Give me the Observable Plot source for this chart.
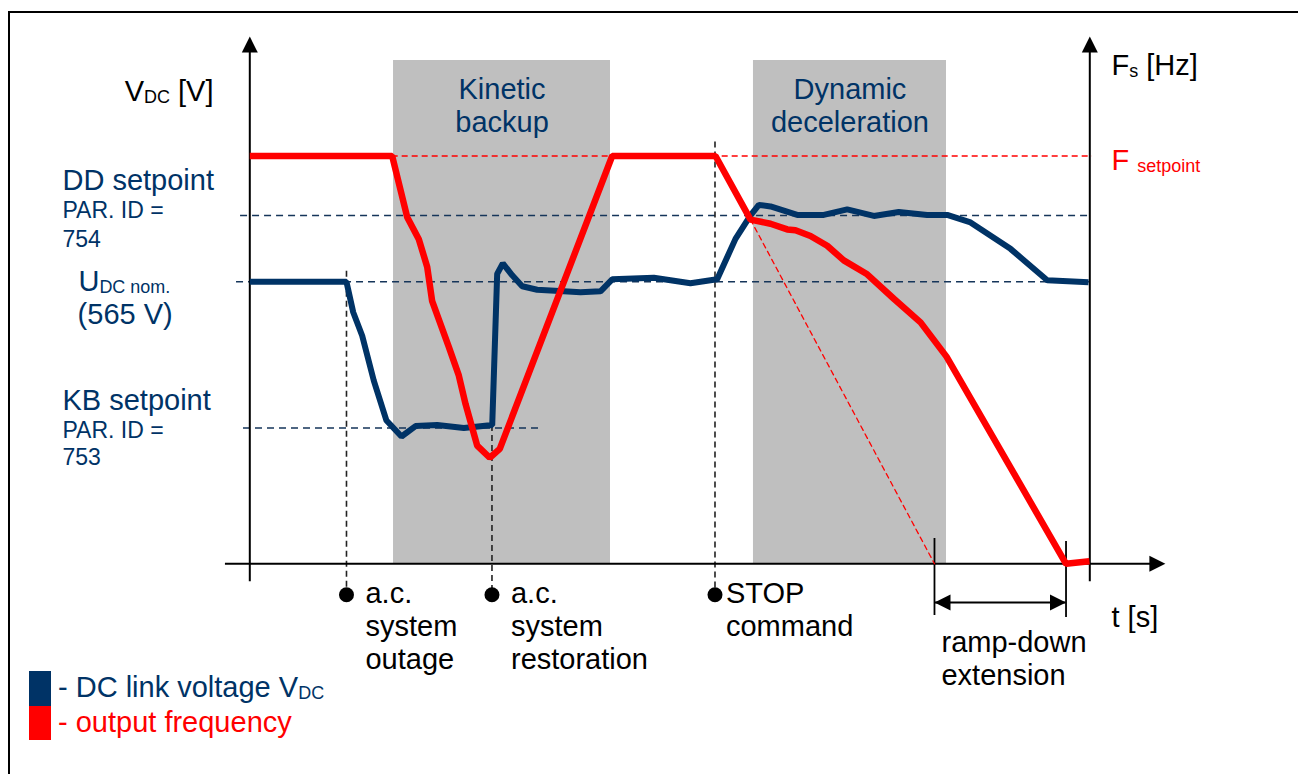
<!DOCTYPE html>
<html>
<head>
<meta charset="utf-8">
<script src="https://cdn.jsdelivr.net/npm/d3@7"></script>
<script src="https://cdn.jsdelivr.net/npm/@observablehq/plot@0.6"></script>
<style>
  html, body { margin: 0; padding: 0; background: #fff; overflow: hidden; }
  #wrap { position: relative; width: 1298px; height: 774px; overflow: hidden;
          font-family: "Liberation Sans", Arial, sans-serif; background: #fff; }
  #chart { position: absolute; left: 0; top: 0; }
  #frame { position: absolute; left: 8px; top: 11px; width: 1400px; height: 900px;
           border: 2.5px solid #000; pointer-events: none; }
  .lg-row { position: absolute; left: 29px; height: 34.5px; }
  .lg-sw { position: absolute; left: 0; top: 0; width: 21.5px; height: 100%; }
  .lg-tx { position: absolute; left: 29px; top: -1px; font-size: 29px; line-height: 34px; white-space: pre; }
</style>
</head>
<body>
<div id="wrap">
  <div id="chart"></div>
  <div id="frame"></div>
  <div id="legend"></div>
</div>
<script>
// ---------------- data ----------------
// time axis in arbitrary units 0..100 (left axis .. right axis)
const vdcTime  = [0, 11.51, 12.31, 13.38, 14.76, 16.27, 18.06, 19.73, 22.31, 25.48, 28.86, 29.45, 30.12, 31.24, 32.43, 34.21, 37.38, 39.37, 41.75, 43.14, 48.10, 52.46, 55.64, 57.82, 59.61, 60.60, 61.99, 65.17, 68.33, 71.12, 74.29, 77.26, 80.64, 83.02, 85.80, 90.56, 94.93, 99.85];
const vdcVolts = [565, 565, 504, 457, 367, 287, 255, 276, 278, 272, 278, 581, 602, 578, 556, 549, 546, 544, 546, 570, 573, 562, 570, 651, 698, 719, 716, 699, 699, 710, 697, 705, 699, 699, 684, 631, 568, 564];

const freqTime = [0, 16.95, 18.74, 20.12, 21.12, 21.71, 23.69, 24.88, 25.68, 27.07, 28.57, 29.76, 43.14, 55.44, 59.61, 61.99, 63.98, 64.96, 66.75, 68.74, 70.71, 73.50, 76.67, 79.85, 82.94, 97.17, 99.96];
const freqHz   = [50, 50, 42.5, 39.8, 36.4, 32.2, 26.6, 23.1, 19.6, 14.5, 13.0, 14.1, 50, 50, 42.2, 41.7, 41.0, 40.9, 40.2, 39.0, 37.2, 35.5, 32.5, 29.6, 25.4, 0, 0.3];

// nominal (un-extended) ramp after STOP
const rampRefTime = [59.61, 81.51];
const rampRefHz   = [42.2, 0];

// setpoints
const setpointNames = ["DD setpoint", "U_{DC nom.}", "KB setpoint"];
const setpointVolts = [698, 565, 272];
const fSetpointHz = 50;

// phases
const phaseNames = ["Kinetic\nbackup", "Dynamic\ndeceleration"];
const phaseStart = [17.11, 59.96];
const phaseEnd   = [42.94, 82.94];

// events
const eventNames = ["a.c.\nsystem\noutage", "a.c.\nsystem\nrestoration", "STOP\ncommand"];
const eventTime  = [11.51, 28.83, 55.38];

// ramp-down extension
const rampDownFrom = 81.51, rampDownTo = 97.17;

// legend
const legendLabels = ["- DC link voltage V_{DC}", "- output frequency"];

// ---------------- styling ----------------
const NAVY = "#003366", RED = "#ff0000", GRAY = "#bfbfbf", REFLINE = "#15355a";
const FONT = "'Liberation Sans', Arial, sans-serif";
const HZ_TO_Y = 817 / 50;          // right axis: F_setpoint sits level with 817 on the left scale

const vdc  = vdcTime.map((t, i) => ({t, v: vdcVolts[i]}));
const freq = freqTime.map((t, i) => ({t, f: freqHz[i]}));
const rampRef = rampRefTime.map((t, i) => ({t, f: rampRefHz[i]}));
const phases = phaseNames.map((name, i) => ({name, start: phaseStart[i], end: phaseEnd[i], mid: (phaseStart[i] + phaseEnd[i]) / 2}));
const eventTops = [586, 297, 845];
const events = eventNames.map((name, i) => ({name, t: eventTime[i], top: eventTops[i]}));
const refLines = [
  {v: setpointVolts[0], from: -1.1,  to: 100},
  {v: setpointVolts[1], from: -1.58, to: 100},
  {v: setpointVolts[2], from: -0.75, to: 34.37}
];

const MARKER_Y = -62;       // event markers below the time axis
const AXIS_FOOT = -36, AXIS_LINE_TOP = 1040, AXIS_TIP = 1056.5;
const T_START = -2.9, T_TIP = 109.0;
const RAMP_Y = -77.5;

// filled arrowhead, tip at the anchor point, pointing up
const ARROW = {draw(ctx) { ctx.moveTo(0, 0); ctx.lineTo(-8, 16); ctx.lineTo(8, 16); ctx.closePath(); }};

const arrowHeads = [
  {t: 0, y: AXIS_TIP, rot: 0},
  {t: 100, y: AXIS_TIP, rot: 0},
  {t: T_TIP, y: 0, rot: 90},
  {t: rampDownFrom, y: RAMP_Y, rot: -90},
  {t: rampDownTo, y: RAMP_Y, rot: 90}
];
const rampTicks = [
  {t: rampDownFrom, y1: 50.7, y2: -103.6},
  {t: rampDownTo, y1: 44.7, y2: -107.6}
];

const leftBig = [
  {text: setpointNames[0], x: -22.3, y: 748},
  {text: setpointNames[1], x: -20.4, y: 546},
  {text: "(565 V)",        x: -20.5, y: 481},
  {text: setpointNames[2], x: -22.3, y: 309}
];
const leftSmall = [
  {text: "PAR. ID =", x: -22.3, y: 692},
  {text: "754",       x: -22.3, y: 634},
  {text: "PAR. ID =", x: -22.3, y: 253},
  {text: "753",       x: -22.3, y: 197}
];
const axisTitles = [
  {text: "V_{DC} [V]", x: -4.32, y: 928, anchor: "end"},
  {text: "F_{s} [Hz]", x: 102.58, y: 980, anchor: "start"},
  {text: "t [s]",      x: 102.58, y: -126, anchor: "start"}
];

const chart = Plot.plot({
  width: 1298,
  height: 774,
  margin: 0,
  x: {domain: [0, 100], range: [249.3, 1089.3], axis: null},
  y: {domain: [0, 565], range: [563.3, 281.3], axis: null},
  style: {fontFamily: FONT, background: "transparent", overflow: "visible"},
  marks: [
    // phases
    Plot.rect(phases, {x1: "start", x2: "end", y1: 0, y2: 1008.4, fill: GRAY}),
    // reference dashed lines
    Plot.ruleY(refLines, {y: "v", x1: "from", x2: "to", stroke: REFLINE, strokeWidth: 1.5, strokeDasharray: "7,5"}),
    Plot.ruleY([fSetpointHz], {y: d => d * HZ_TO_Y, x1: 16.95, x2: 100.3, stroke: RED, strokeWidth: 1.3, strokeDasharray: "6,4"}),
    Plot.ruleX(events, {x: "t", y1: "top", y2: MARKER_Y, stroke: "#222", strokeWidth: 1.6, strokeDasharray: "6,4"}),
    // axes
    Plot.ruleX([0, 100], {y1: AXIS_FOOT, y2: AXIS_LINE_TOP, stroke: "#000", strokeWidth: 2}),
    Plot.ruleY([0], {x1: T_START, x2: T_TIP - 1, stroke: "#000", strokeWidth: 2}),
    Plot.ruleX(rampTicks, {x: "t", y1: "y1", y2: "y2", stroke: "#000", strokeWidth: 1.8}),
    Plot.ruleY([RAMP_Y], {x1: rampDownFrom, x2: rampDownTo, stroke: "#000", strokeWidth: 1.8}),
    Plot.dot(arrowHeads, {x: "t", y: "y", rotate: "rot", symbol: ARROW, r: 5, fill: "#000", stroke: "none"}),
    // nominal ramp reference
    Plot.line(rampRef, {x: "t", y: d => d.f * HZ_TO_Y, stroke: RED, strokeWidth: 1.3, strokeDasharray: "5,4"}),
    // series
    Plot.line(vdc, {x: "t", y: "v", stroke: NAVY, strokeWidth: 6, strokeLinejoin: "miter", strokeLinecap: "butt"}),
    Plot.line(freq, {x: "t", y: d => d.f * HZ_TO_Y, stroke: RED, strokeWidth: 6.5, strokeLinejoin: "miter", strokeLinecap: "butt"}),
    // event markers
    Plot.dot(events, {x: "t", y: MARKER_Y, r: 7.5, fill: "#000", stroke: "none"}),
    // texts
    Plot.text(phases, {x: "mid", y: 866, text: "name", fill: NAVY, fontSize: 29, textAnchor: "middle", lineAnchor: "bottom", lineHeight: 1.138}),
    Plot.text(leftBig, {x: "x", y: "y", text: "text", fill: NAVY, fontSize: 29, textAnchor: "start", lineAnchor: "bottom"}),
    Plot.text(leftSmall, {x: "x", y: "y", text: "text", fill: NAVY, fontSize: 23, textAnchor: "start", lineAnchor: "bottom"}),
    Plot.text(axisTitles.filter(d => d.anchor === "end"), {x: "x", y: "y", text: "text", fill: "#000", fontSize: 29, textAnchor: "end", lineAnchor: "bottom"}),
    Plot.text(axisTitles.filter(d => d.anchor === "start"), {x: "x", y: "y", text: "text", fill: "#000", fontSize: 29, textAnchor: "start", lineAnchor: "bottom"}),
    Plot.text([fSetpointHz], {x: 102.58, y: d => d * HZ_TO_Y, dy: 13.5, text: () => "F _{setpoint}", fill: RED, fontSize: 29, textAnchor: "start", lineAnchor: "bottom"}),
    Plot.text(events.slice(0, 2), {x: "t", y: -211, dx: 19, text: "name", fill: "#000", fontSize: 29, textAnchor: "start", lineAnchor: "bottom", lineHeight: 1.148}),
    Plot.text(events.slice(2), {x: "t", y: -144.3, dx: 11, text: "name", fill: "#000", fontSize: 29, textAnchor: "start", lineAnchor: "bottom", lineHeight: 1.148}),
    Plot.text([rampDownFrom], {x: d => d, y: -242.8, dx: 7, text: () => "ramp-down\nextension", fill: "#000", fontSize: 29, textAnchor: "start", lineAnchor: "bottom", lineHeight: 1.138})
  ]
});

// subscripts: "_{...}" -> smaller, slightly lowered tspan
function applySubscripts(root) {
  root.querySelectorAll("text").forEach(el => {
    el.style.whiteSpace = "pre";
    if (el.children.length) return;
    const s = el.textContent;
    if (!s.includes("_{")) return;
    el.textContent = "";
    let shifted = false;
    for (const p of s.split(/(_\{[^}]*\})/)) {
      if (!p) continue;
      const t = document.createElementNS("http://www.w3.org/2000/svg", "tspan");
      if (p.startsWith("_{")) {
        t.textContent = p.slice(2, -1);
        t.style.fontSize = "0.62em";
        t.setAttribute("dy", "2");
        shifted = true;
      } else {
        t.textContent = p;
        if (shifted) { t.setAttribute("dy", "-2"); shifted = false; }
      }
      el.appendChild(t);
    }
  });
}
applySubscripts(chart);
document.getElementById("chart").appendChild(chart);

// legend
const legendColors = [NAVY, RED];
const legendTops = [671, 705.5];
const lg = document.getElementById("legend");
legendLabels.forEach((label, i) => {
  const row = document.createElement("div");
  row.className = "lg-row";
  row.style.top = legendTops[i] + "px";
  const sw = document.createElement("div");
  sw.className = "lg-sw";
  sw.style.background = legendColors[i];
  const tx = document.createElement("div");
  tx.className = "lg-tx";
  tx.style.color = legendColors[i];
  tx.innerHTML = label.replace(/_\{([^}]*)\}/g, '<span style="font-size:0.62em;position:relative;top:2px">$1</span>');
  row.appendChild(sw);
  row.appendChild(tx);
  lg.appendChild(row);
});
</script>
</body>
</html>
